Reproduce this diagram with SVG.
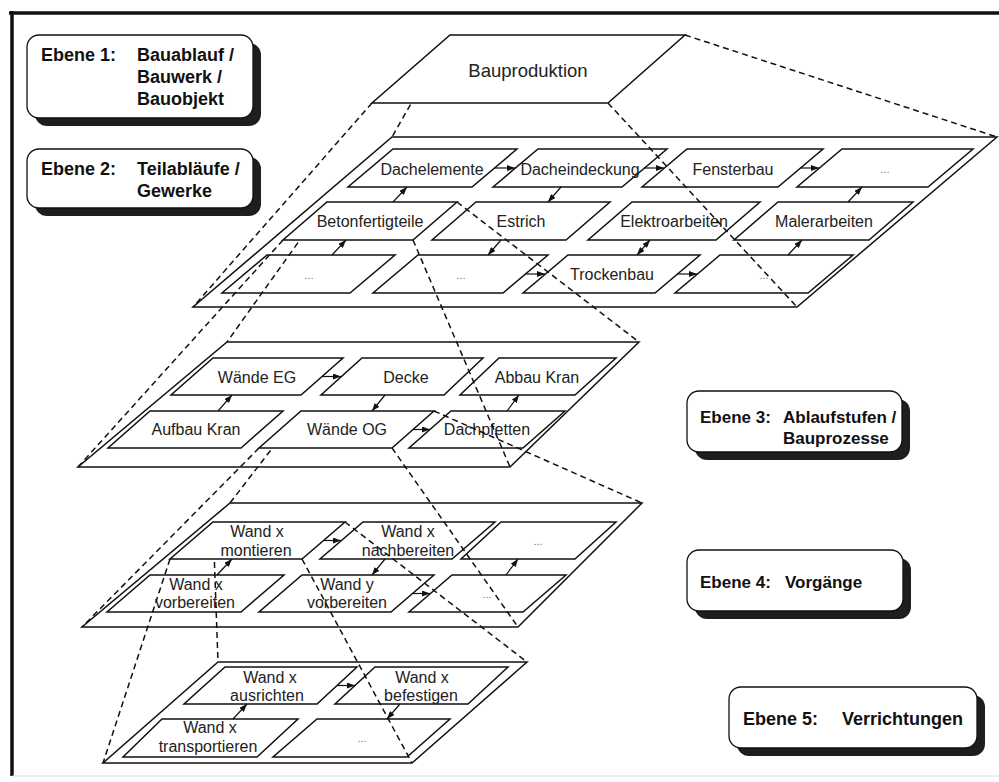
<svg xmlns="http://www.w3.org/2000/svg" width="999" height="782" viewBox="0 0 999 782">
<style>
.bg{fill:#fff}
.frame{stroke:#111;stroke-width:3.5;fill:none}
.plane{fill:#fff;stroke:#111;stroke-width:1.5}
.box{fill:#fff;stroke:#111;stroke-width:1.5}
.lbl{font-family:"Liberation Sans",Arial,sans-serif;font-size:16px;fill:#222;text-anchor:middle}
.big{font-size:18.5px}
.dots{font-family:"Liberation Sans",Arial,sans-serif;font-size:11px;fill:#777;text-anchor:middle}
.hd{font-family:"Liberation Sans",Arial,sans-serif;font-size:18px;font-weight:bold;fill:#111}
.hs{font-size:17px}
.card{fill:#fff;stroke:#111;stroke-width:1.3}
.shadow{fill:#1e1e1e}
.dash{stroke:#111;stroke-width:1.5;stroke-dasharray:6 4;fill:none}
.arr{stroke:#111;stroke-width:1.2;fill:none;marker-end:url(#ah)}
.arr2{stroke:#111;stroke-width:1.2;fill:none;marker-end:url(#ah);marker-start:url(#ah)}
</style>
<defs>
<marker id="ah" viewBox="0 0 8 6" refX="8" refY="3" markerWidth="8" markerHeight="6" orient="auto-start-reverse" markerUnits="userSpaceOnUse">
<path d="M0,0 L8,3 L0,6 z" fill="#111"/>
</marker>
</defs>
<rect class="bg" x="0" y="0" width="999" height="782"/>
<g id="frame">
<line class="frame" x1="9" y1="13" x2="999" y2="13"/>
<line class="frame" x1="12" y1="11" x2="12" y2="776"/>
<line x1="12" y1="776" x2="999" y2="776" stroke="#ddd" stroke-width="1"/>
</g>

<g id="ebene1">
<rect class="shadow" x="35" y="43" width="226" height="83" rx="12"/>
<rect class="card" x="27" y="35" width="226" height="83" rx="12"/>
<text class="hd" x="41" y="61">Ebene 1:</text>
<text class="hd" x="137" y="61">Bauablauf /</text>
<text class="hd" x="137" y="83">Bauwerk /</text>
<text class="hd" x="137" y="105">Bauobjekt</text>
</g>
<g id="ebene2">
<rect class="shadow" x="35" y="157" width="226" height="59" rx="12"/>
<rect class="card" x="27" y="149" width="226" height="59" rx="12"/>
<text class="hd" x="41" y="175">Ebene 2:</text>
<text class="hd" x="137" y="175">Teilabläufe /</text>
<text class="hd" x="137" y="197">Gewerke</text>
</g>
<g id="ebene3">
<rect class="shadow" x="695" y="399" width="215" height="61" rx="12"/>
<rect class="card" x="687" y="391" width="215" height="61" rx="12"/>
<text class="hd hs" x="700" y="423">Ebene 3:</text>
<text class="hd hs" x="783" y="423">Ablaufstufen /</text>
<text class="hd hs" x="783" y="444">Bauprozesse</text>
</g>
<g id="ebene4">
<rect class="shadow" x="695" y="558" width="216" height="61" rx="12"/>
<rect class="card" x="687" y="550" width="216" height="61" rx="12"/>
<text class="hd hs" x="700" y="588">Ebene 4:</text>
<text class="hd hs" x="785" y="588">Vorgänge</text>
</g>
<g id="ebene5">
<rect class="shadow" x="737" y="695" width="248" height="61" rx="12"/>
<rect class="card" x="729" y="687" width="248" height="61" rx="12"/>
<text class="hd" x="743" y="725">Ebene 5:</text>
<text class="hd" x="842" y="725">Verrichtungen</text>
</g>

<!-- Level 2 -->
<g id="level2">
<polygon class="plane" points="392,137 997,137 797,307 193,307"/>
<g id="dachelemente"><polygon class="box" points="393,149 517,149 472,187 348,187"/><text class="lbl" x="432" y="175">Dachelemente</text></g>
<g id="dacheindeckung"><polygon class="box" points="538,149 667,149 622,187 493,187"/><text class="lbl" x="580" y="175">Dacheindeckung</text></g>
<g id="fensterbau"><polygon class="box" points="687,149 823,149 778,187 642,187"/><text class="lbl" x="733" y="175">Fensterbau</text></g>
<g id="l2-etc1"><polygon class="box" points="842,149 973,149 928,187 797,187"/><text class="dots" x="885" y="173">...</text></g>
<g id="estrich"><polygon class="box" points="476,202 610,202 566,240 432,240"/><text class="lbl" x="521" y="227">Estrich</text></g>
<g id="elektroarbeiten"><polygon class="box" points="632,202 760,202 716,240 588,240"/><text class="lbl" x="674" y="227">Elektroarbeiten</text></g>
<g id="malerarbeiten"><polygon class="box" points="778,202 913,202 869,240 734,240"/><text class="lbl" x="824" y="227">Malerarbeiten</text></g>
<g id="l2-etc2"><polygon class="box" points="267,255 395,255 350,293 222,293"/><text class="dots" x="309" y="279">...</text></g>
<g id="l2-etc3"><polygon class="box" points="418,255 548,255 503,293 373,293"/><text class="dots" x="461" y="279">...</text></g>
<g id="trockenbau"><polygon class="box" points="568,255 700,255 655,293 523,293"/><text class="lbl" x="612" y="280">Trockenbau</text></g>
<g id="l2-etc4"><polygon class="box" points="720,255 853,255 808,293 675,293"/><text class="dots" x="764" y="279">...</text></g>
</g>

<!-- Level 3 -->
<g id="level3">
<polygon class="plane" points="227,342 639,342 510,467 78,467"/>
<g id="waende-eg"><polygon class="box" points="213,358 343,358 301,395 171,395"/><text class="lbl" x="257" y="383">Wände EG</text></g>
<g id="decke"><polygon class="box" points="362,358 483,358 444,395 321,395"/><text class="lbl" x="406" y="383">Decke</text></g>
<g id="abbau-kran"><polygon class="box" points="499,358 616,358 575,395 460,395"/><text class="lbl" x="537" y="383">Abbau Kran</text></g>
<g id="aufbau-kran"><polygon class="box" points="150,411 283,411 241,448 108,448"/><text class="lbl" x="196" y="435">Aufbau Kran</text></g>
<g id="dachpfetten"><polygon class="box" points="451,411 565,411 523,448 409,448"/><text class="lbl" x="487" y="435">Dachpfetten</text></g>
</g>

<!-- Level 4 -->
<g id="level4">
<polygon class="plane" points="230,503 642,503 518,627 82,627"/>
<g id="wand-x-nachbereiten"><polygon class="box" points="363,522 495,522 452,559 320,559"/><text class="lbl" x="408" y="537">Wand x</text><text class="lbl" x="408" y="556">nachbereiten</text></g>
<g id="l4-etc1"><polygon class="box" points="501,522 616,522 575,559 461,559"/><text class="dots" x="538" y="545">...</text></g>
<g id="wand-x-vorbereiten"><polygon class="box" points="150,575 284,575 241,612 107,612"/><text class="lbl" x="196" y="590">Wand x</text><text class="lbl" x="195" y="608">vorbereiten</text></g>
<g id="wand-y-vorbereiten"><polygon class="box" points="302,575 434,575 391,612 259,612"/><text class="lbl" x="347" y="590">Wand y</text><text class="lbl" x="347" y="608">vorbereiten</text></g>
<g id="l4-etc2"><polygon class="box" points="452,575 566,575 523,612 409,612"/><text class="dots" x="487" y="598">...</text></g>
</g>

<!-- Level 5 -->
<g id="level5">
<polygon class="plane" points="218,662 527,662 412,763 103,763"/>
<g id="wand-x-ausrichten"><polygon class="box" points="225,667 357,667 317,704 184,704"/><text class="lbl" x="270" y="683">Wand x</text><text class="lbl" x="267" y="701">ausrichten</text></g>
<g id="wand-x-befestigen"><polygon class="box" points="375,667 508,667 468,704 335,704"/><text class="lbl" x="422" y="683">Wand x</text><text class="lbl" x="421" y="701">befestigen</text></g>
<g id="wand-x-transportieren"><polygon class="box" points="162,719 298,719 257,757 123,757"/><text class="lbl" x="210" y="733">Wand x</text><text class="lbl" x="208" y="752">transportieren</text></g>
<g id="l5-etc"><polygon class="box" points="317,719 450,719 407,757 273,757"/><text class="dots" x="362" y="742">...</text></g>
</g>

<g id="connectors">
<!-- level 2 arrows -->
<line class="arr" x1="494" y1="168" x2="515" y2="168"/>
<line class="arr" x1="644" y1="168" x2="664" y2="168"/>
<line class="arr" x1="800" y1="168" x2="819" y2="168"/>
<line class="arr" x1="561" y1="187" x2="548" y2="202"/>
<line class="arr" x1="501" y1="240" x2="488" y2="255"/>
<line class="arr" x1="393" y1="202" x2="407" y2="187"/>
<line class="arr" x1="332" y1="255" x2="346" y2="240"/>
<line class="arr" x1="525" y1="274" x2="545" y2="274"/>
<line class="arr2" x1="637" y1="255" x2="650" y2="240"/>
<line class="arr" x1="677" y1="274" x2="697" y2="274"/>
<line class="arr" x1="788" y1="255" x2="802" y2="240"/>
<line class="arr" x1="848" y1="202" x2="862" y2="187"/>
<!-- level 3 arrows -->
<line class="arr" x1="218" y1="411" x2="232" y2="395"/>
<line class="arr" x1="322" y1="376.5" x2="341" y2="376.5"/>
<line class="arr" x1="385" y1="395" x2="372" y2="411"/>
<line class="arr" x1="413" y1="429.5" x2="430" y2="429.5"/>
<line class="arr" x1="507" y1="411" x2="519" y2="395"/>
<!-- level 4 arrows -->
<line class="arr" x1="217" y1="575" x2="232" y2="559"/>
<line class="arr" x1="324" y1="540.5" x2="341" y2="540.5"/>
<line class="arr" x1="385" y1="559" x2="372" y2="575"/>
<line class="arr" x1="413" y1="593.5" x2="430" y2="593.5"/>
<line class="arr" x1="506" y1="575" x2="518" y2="559"/>
<!-- level 5 arrows -->
<line class="arr" x1="233" y1="719" x2="247" y2="704"/>
<line class="arr" x1="337" y1="685.5" x2="355" y2="685.5"/>
<line class="arr" x1="400" y1="704" x2="387" y2="719"/>
<!-- projection lines -->
<line class="dash" x1="450" y1="35" x2="392" y2="137"/>
<line class="dash" x1="685" y1="35" x2="997" y2="137"/>
<line class="dash" x1="608" y1="103" x2="797" y2="307"/>
<line class="dash" x1="372" y1="103" x2="193" y2="307"/>
<line class="dash" x1="327" y1="202" x2="227" y2="342"/>
<line class="dash" x1="457" y1="202" x2="639" y2="342"/>
<line class="dash" x1="413" y1="240" x2="510" y2="467"/>
<line class="dash" x1="283" y1="240" x2="78" y2="467"/>
<line class="dash" x1="301" y1="411" x2="230" y2="503"/>
<line class="dash" x1="434" y1="411" x2="642" y2="503"/>
<line class="dash" x1="392" y1="448" x2="518" y2="627"/>
<line class="dash" x1="259" y1="448" x2="82" y2="627"/>
<line class="dash" x1="213" y1="522" x2="218" y2="662"/>
<line class="dash" x1="345" y1="522" x2="527" y2="662"/>
<line class="dash" x1="302" y1="559" x2="412" y2="763"/>
<line class="dash" x1="170" y1="559" x2="103" y2="763"/>
</g>

<g id="bauproduktion"><polygon class="box" points="450,35 685,35 608,103 372,103"/><text class="lbl big" x="528" y="77">Bauproduktion</text></g>
<g id="betonfertigteile"><polygon class="box" points="327,202 457,202 413,240 283,240"/><text class="lbl" x="370" y="227">Betonfertigteile</text></g>
<g id="waende-og"><polygon class="box" points="301,411 434,411 392,448 259,448"/><text class="lbl" x="347" y="435">Wände OG</text></g>
<g id="wand-x-montieren"><polygon class="box" points="213,522 345,522 302,559 170,559"/><text class="lbl" x="257" y="537">Wand x</text><text class="lbl" x="256" y="556">montieren</text></g>
</svg>
